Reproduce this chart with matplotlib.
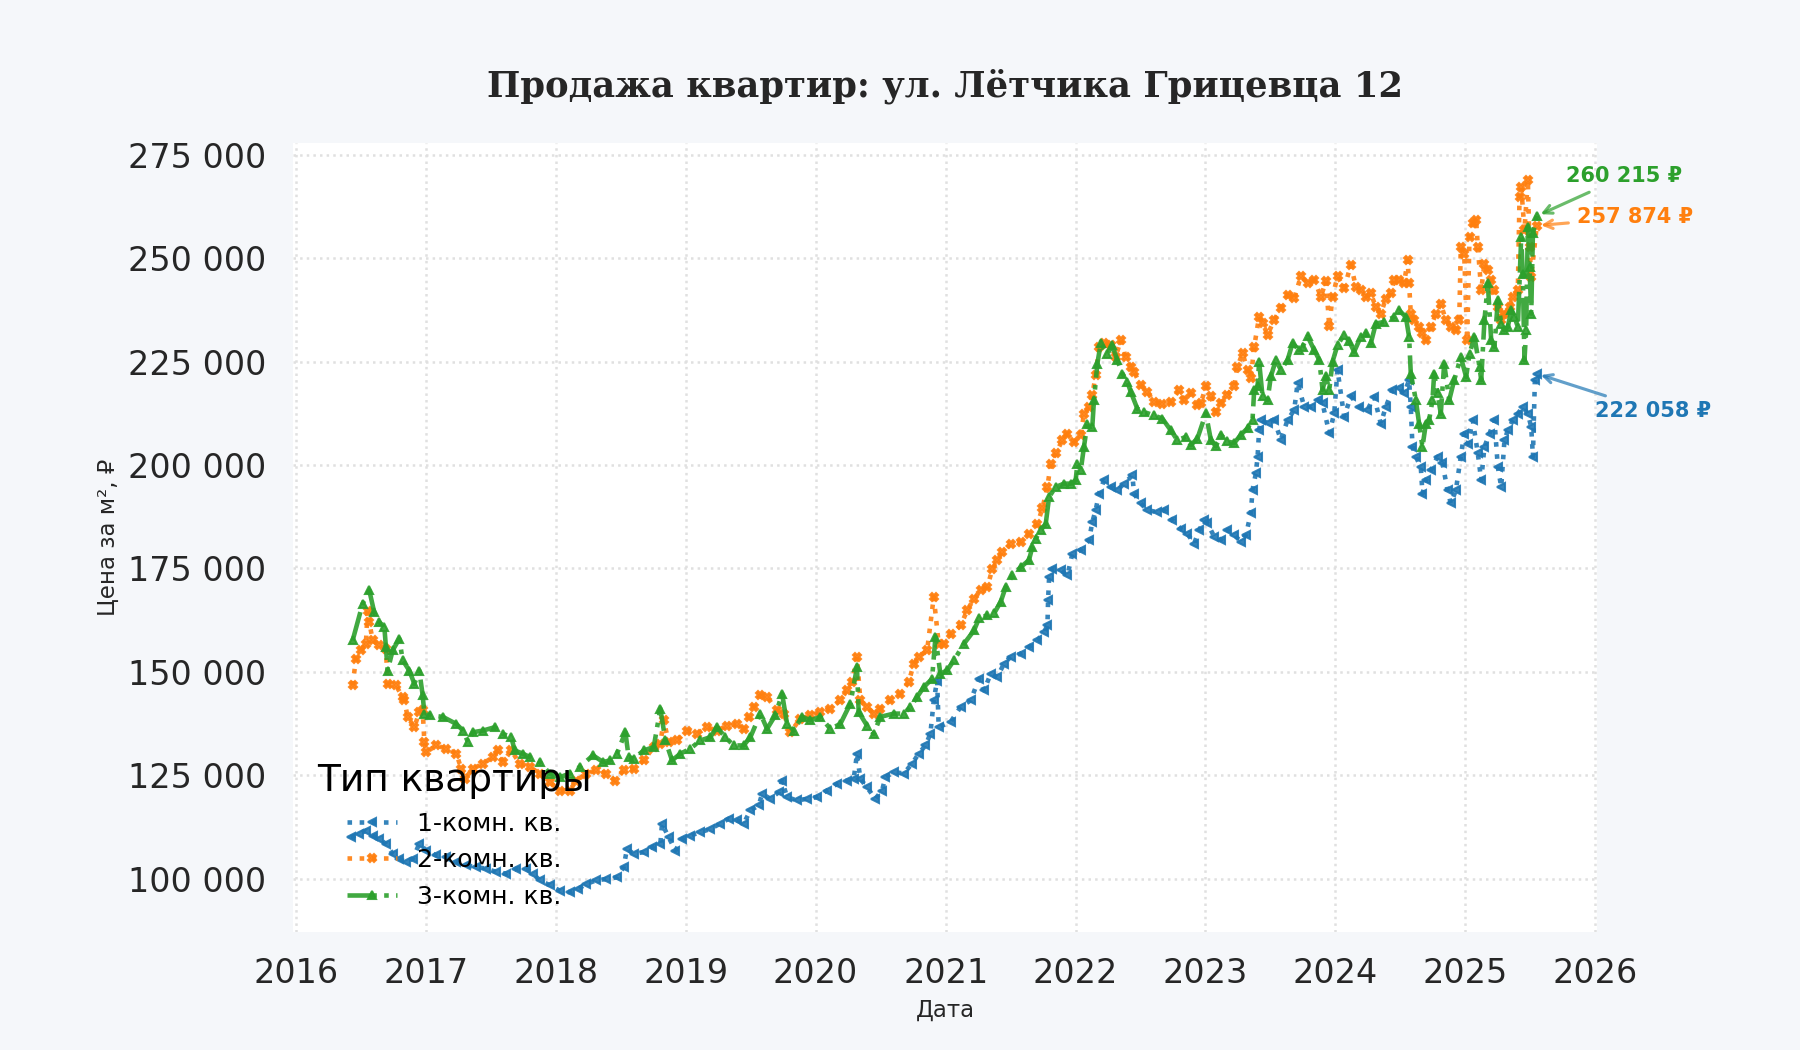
import pandas as pd
import matplotlib
matplotlib.use("Agg")
import matplotlib.pyplot as plt
import matplotlib.ticker as mtick
import matplotlib.dates as mdates

# decimal year -> price per m2
t1 = [2016.424, 2016.488, 2016.539, 2016.591, 2016.642, 2016.693, 2016.745, 2016.796, 2016.847, 2016.899,
      2016.950, 2017.002, 2017.079, 2017.156, 2017.233, 2017.310, 2017.387, 2017.464, 2017.541, 2017.618,
      2017.695, 2017.772, 2017.823, 2017.875, 2017.952, 2018.029, 2018.106, 2018.170, 2018.234, 2018.311,
      2018.388, 2018.470, 2018.522, 2018.547, 2018.599, 2018.676, 2018.740, 2018.804, 2018.817, 2018.868,
      2018.920, 2018.971, 2019.035, 2019.112, 2019.189, 2019.266, 2019.331, 2019.395, 2019.446, 2019.498,
      2019.562, 2019.588, 2019.652, 2019.716, 2019.742, 2019.780, 2019.857, 2019.934, 2020.011, 2020.088,
      2020.165, 2020.242, 2020.294, 2020.319, 2020.345, 2020.396, 2020.460, 2020.512, 2020.538, 2020.602,
      2020.679, 2020.743, 2020.794, 2020.846, 2020.884, 2020.910, 2020.936, 2020.948, 2021.038, 2021.115,
      2021.192, 2021.256, 2021.295, 2021.346, 2021.398, 2021.449, 2021.500, 2021.577, 2021.641, 2021.706,
      2021.757, 2021.783, 2021.788, 2021.796, 2021.821, 2021.886, 2021.937, 2021.975, 2022.040, 2022.104,
      2022.129, 2022.155, 2022.181, 2022.219, 2022.271, 2022.322, 2022.373, 2022.438, 2022.450, 2022.502,
      2022.553, 2022.630, 2022.682, 2022.746, 2022.810, 2022.861, 2022.913, 2022.951, 2022.990, 2023.016,
      2023.068, 2023.119, 2023.170, 2023.222, 2023.273, 2023.312, 2023.350, 2023.363, 2023.389, 2023.402,
      2023.414, 2023.427, 2023.479, 2023.530, 2023.581, 2023.633, 2023.684, 2023.710, 2023.761, 2023.812,
      2023.864, 2023.902, 2023.954, 2023.992, 2024.018, 2024.069, 2024.121, 2024.185, 2024.248, 2024.300,
      2024.351, 2024.390, 2024.441, 2024.492, 2024.531, 2024.569, 2024.582, 2024.595, 2024.621, 2024.659,
      2024.672, 2024.698, 2024.736, 2024.788, 2024.826, 2024.865, 2024.890, 2024.929, 2024.967, 2024.993,
      2025.019, 2025.057, 2025.096, 2025.122, 2025.147, 2025.186, 2025.224, 2025.250, 2025.276, 2025.301,
      2025.327, 2025.365, 2025.404, 2025.442, 2025.481, 2025.507, 2025.520, 2025.535, 2025.550]
p1 = [110000, 110800, 111600, 110400, 109600, 108400, 106000, 104800, 104000, 104800,
      108400, 106800, 105600, 105200, 104000, 103200, 102800, 102400, 101600, 101200,
      102400, 102400, 101200, 99600, 98400, 97100, 96700, 97500, 98700, 99600,
      99900, 100300, 102800, 107200, 106000, 106400, 107600, 108400, 113300, 110000,
      106800, 109600, 110400, 111200, 112000, 113300, 114500, 114100, 113300, 116500,
      117700, 120500, 119300, 120900, 123700, 119700, 118900, 119300, 119700, 121300,
      122900, 123700, 124100, 130200, 124100, 122100, 119300, 121300, 124500, 125800,
      125400, 127800, 130200, 132200, 135000, 143100, 147900, 136600, 137900, 141500,
      143100, 148300, 145500, 149500, 148800, 152000, 153600, 154400, 156000, 157600,
      159600, 161200, 167300, 172900, 174900, 174500, 173300, 178600, 179400, 181800,
      186200, 189100, 193100, 196300, 194700, 193900, 195500, 197500, 193100, 190700,
      189100, 188600, 189100, 186600, 184600, 183400, 181000, 184200, 186600, 185900,
      182700, 181900, 184300, 183100, 181500, 183100, 188300, 194000, 198000, 202000,
      208500, 210900, 210100, 210900, 206100, 210900, 213300, 219800, 214100, 214100,
      215700, 214900, 207700, 212500, 223000, 211700, 216600, 214100, 213300, 216500,
      210000, 214100, 218100, 218500, 217300, 220500, 214100, 204400, 202000, 199500,
      193100, 196300, 198700, 202000, 200400, 193900, 190700, 193900, 202000, 207600,
      205200, 210800, 202800, 196300, 204400, 207600, 210800, 199500, 194700, 206000,
      208400, 210800, 212400, 214100, 212400, 209200, 202000, 220500, 222058]

t2 = [2016.437, 2016.462, 2016.501, 2016.539, 2016.552, 2016.565, 2016.591, 2016.642, 2016.693, 2016.706,
      2016.770, 2016.822, 2016.835, 2016.860, 2016.912, 2016.950, 2016.976, 2016.989, 2017.002, 2017.079,
      2017.156, 2017.233, 2017.271, 2017.297, 2017.361, 2017.438, 2017.515, 2017.554, 2017.592, 2017.656,
      2017.721, 2017.798, 2017.875, 2017.952, 2018.029, 2018.106, 2018.157, 2018.234, 2018.311, 2018.388,
      2018.458, 2018.522, 2018.599, 2018.676, 2018.753, 2018.804, 2018.830, 2018.868, 2018.933, 2019.010,
      2019.087, 2019.164, 2019.241, 2019.318, 2019.395, 2019.446, 2019.485, 2019.523, 2019.575, 2019.626,
      2019.703, 2019.754, 2019.806, 2019.883, 2019.960, 2020.037, 2020.114, 2020.191, 2020.242, 2020.281,
      2020.319, 2020.345, 2020.396, 2020.448, 2020.499, 2020.576, 2020.653, 2020.717, 2020.756, 2020.794,
      2020.859, 2020.910, 2020.948, 2020.987, 2021.038, 2021.115, 2021.166, 2021.218, 2021.269, 2021.321,
      2021.359, 2021.398, 2021.436, 2021.500, 2021.577, 2021.641, 2021.706, 2021.744, 2021.783, 2021.808,
      2021.847, 2021.898, 2021.937, 2021.988, 2022.040, 2022.065, 2022.104, 2022.129, 2022.155, 2022.181,
      2022.219, 2022.271, 2022.309, 2022.348, 2022.386, 2022.425, 2022.450, 2022.502, 2022.553, 2022.604,
      2022.669, 2022.733, 2022.797, 2022.836, 2022.887, 2022.938, 2022.965, 2023.004, 2023.042, 2023.081,
      2023.119, 2023.170, 2023.222, 2023.247, 2023.286, 2023.325, 2023.350, 2023.376, 2023.414, 2023.440,
      2023.479, 2023.530, 2023.581, 2023.633, 2023.684, 2023.735, 2023.787, 2023.838, 2023.889, 2023.928,
      2023.954, 2023.979, 2024.018, 2024.069, 2024.121, 2024.159, 2024.197, 2024.236, 2024.274, 2024.313,
      2024.351, 2024.390, 2024.428, 2024.454, 2024.492, 2024.531, 2024.557, 2024.569, 2024.582, 2024.608,
      2024.646, 2024.672, 2024.698, 2024.736, 2024.775, 2024.813, 2024.852, 2024.890, 2024.929, 2024.955,
      2024.967, 2024.993, 2025.014, 2025.032, 2025.057, 2025.083, 2025.096, 2025.122, 2025.147, 2025.173,
      2025.199, 2025.224, 2025.250, 2025.276, 2025.301, 2025.340, 2025.365, 2025.404, 2025.417, 2025.430,
      2025.455, 2025.481, 2025.494, 2025.507, 2025.550]
p2 = [146700, 153200, 155200, 156800, 164800, 162000, 157600, 156400, 155600, 147100,
      146700, 143900, 143100, 139100, 136600, 140300, 140700, 133000, 130600, 132200,
      131400, 130200, 126600, 124100, 126600, 127800, 129400, 131000, 128200, 131000,
      127800, 127000, 125400, 123300, 121300, 121300, 123700, 125400, 126200, 125400,
      123700, 126200, 126600, 128600, 131800, 132600, 138300, 133000, 133400, 135800,
      135000, 136600, 135800, 137000, 137400, 136200, 139100, 141500, 144300, 143900,
      140700, 139900, 135400, 138700, 139500, 140300, 141100, 143100, 145500, 147500,
      153600, 143100, 141500, 139900, 141100, 143100, 144700, 147500, 151900, 153600,
      155200, 168100, 156800, 156800, 159200, 161200, 164900, 167700, 169700, 170500,
      174900, 177000, 179000, 181000, 181400, 183400, 185800, 189500, 194700, 200300,
      202800, 206000, 207600, 205600, 207200, 212400, 214000, 216900, 221700, 228500,
      229400, 228900, 226100, 230200, 226100, 223700, 222500, 219300, 217700, 215200,
      214800, 215200, 218100, 215700, 217300, 214400, 215000, 219000, 216600, 212900,
      215000, 217000, 219000, 223800, 227000, 223000, 221000, 228600, 235900, 234300,
      231500, 235100, 237900, 241100, 240300, 245600, 244000, 244800, 240700, 244400,
      233500, 240700, 245600, 242700, 248400, 243100, 242300, 240700, 241500, 238200,
      236600, 240200, 241500, 244700, 244700, 243900, 249500, 243900, 236600, 235000,
      233400, 231800, 230200, 233400, 236600, 239000, 235000, 233400, 232600, 235000,
      252700, 251100, 230200, 255200, 258400, 259200, 252700, 242300, 248700, 247100,
      244700, 242300, 238200, 235000, 236600, 238200, 240700, 242300, 264800, 267200,
      256800, 268900, 252700, 245500, 257874]

t3 = [2016.437, 2016.514, 2016.565, 2016.603, 2016.642, 2016.681, 2016.693, 2016.706, 2016.745, 2016.796,
      2016.822, 2016.873, 2016.912, 2016.950, 2016.976, 2016.989, 2017.027, 2017.130, 2017.233, 2017.284,
      2017.323, 2017.361, 2017.438, 2017.528, 2017.592, 2017.656, 2017.682, 2017.746, 2017.798, 2017.875,
      2017.952, 2018.029, 2018.106, 2018.183, 2018.286, 2018.363, 2018.419, 2018.470, 2018.535, 2018.560,
      2018.599, 2018.676, 2018.753, 2018.804, 2018.843, 2018.894, 2018.958, 2019.035, 2019.112, 2019.189,
      2019.241, 2019.305, 2019.369, 2019.446, 2019.498, 2019.575, 2019.626, 2019.690, 2019.742, 2019.780,
      2019.831, 2019.896, 2019.960, 2020.037, 2020.114, 2020.191, 2020.268, 2020.319, 2020.332, 2020.396,
      2020.448, 2020.499, 2020.602, 2020.679, 2020.730, 2020.782, 2020.833, 2020.897, 2020.923, 2020.961,
      2021.012, 2021.064, 2021.141, 2021.218, 2021.256, 2021.321, 2021.372, 2021.423, 2021.462, 2021.513,
      2021.577, 2021.641, 2021.667, 2021.693, 2021.731, 2021.770, 2021.796, 2021.847, 2021.911, 2021.963,
      2022.001, 2022.014, 2022.040, 2022.065, 2022.091, 2022.129, 2022.142, 2022.168, 2022.194, 2022.245,
      2022.284, 2022.322, 2022.361, 2022.399, 2022.425, 2022.476, 2022.528, 2022.604, 2022.669, 2022.733,
      2022.784, 2022.849, 2022.887, 2022.938, 2023.004, 2023.042, 2023.081, 2023.119, 2023.170, 2023.222,
      2023.273, 2023.325, 2023.363, 2023.376, 2023.402, 2023.414, 2023.440, 2023.479, 2023.504, 2023.543,
      2023.581, 2023.633, 2023.671, 2023.723, 2023.748, 2023.787, 2023.838, 2023.877, 2023.902, 2023.928,
      2023.954, 2023.979, 2024.018, 2024.069, 2024.108, 2024.146, 2024.197, 2024.236, 2024.274, 2024.313,
      2024.377, 2024.454, 2024.492, 2024.544, 2024.569, 2024.582, 2024.621, 2024.646, 2024.672, 2024.698,
      2024.723, 2024.749, 2024.762, 2024.788, 2024.813, 2024.839, 2024.878, 2024.916, 2024.967, 2025.006,
      2025.032, 2025.070, 2025.109, 2025.122, 2025.147, 2025.173, 2025.199, 2025.224, 2025.250, 2025.276,
      2025.301, 2025.327, 2025.353, 2025.378, 2025.404, 2025.430, 2025.442, 2025.455, 2025.468, 2025.481,
      2025.494, 2025.507, 2025.520, 2025.550]
p3 = [157600, 166500, 169700, 164400, 162000, 160800, 156000, 150300, 155200, 158000,
      152800, 150300, 147100, 150300, 144300, 139900, 139500, 139100, 137400, 135800,
      133000, 135400, 135800, 136600, 135000, 134200, 131000, 130200, 129400, 128200,
      125400, 124500, 125400, 127000, 129800, 128200, 128600, 130200, 135400, 129400,
      129000, 131000, 131800, 141100, 133400, 128600, 130200, 131400, 133400, 134200,
      136600, 134200, 132200, 132200, 134200, 139900, 136200, 139500, 144700, 137400,
      135800, 139100, 138300, 139100, 136200, 137400, 142300, 151100, 140300, 137000,
      135000, 139100, 139900, 139900, 141500, 143900, 146300, 148300, 158400, 149500,
      150400, 152800, 156800, 160000, 162900, 163700, 164100, 166900, 170500, 173300,
      175300, 177000, 180200, 182200, 184200, 185800, 192300, 194700, 195500, 195500,
      196300, 200300, 198700, 204400, 210000, 209200, 215700, 224500, 229400, 226900,
      228900, 225300, 222100, 220100, 217700, 213600, 212800, 212000, 211200, 208400,
      206000, 206800, 204800, 206400, 212500, 206100, 204500, 207300, 205700, 205300,
      207300, 208900, 210900, 218200, 219000, 225000, 216600, 215700, 221400, 225400,
      223000, 225400, 229400, 227800, 228600, 231100, 227800, 225400, 218200, 221400,
      218200, 225000, 229000, 231500, 229900, 227400, 231000, 231800, 229400, 234200,
      234600, 235800, 237400, 235800, 231000, 222100, 215700, 210000, 204400, 210000,
      210800, 215700, 222100, 217300, 212400, 224500, 215700, 220500, 226100, 221300,
      226900, 231000, 223700, 220500, 235000, 243900, 230200, 228600, 239800, 234200,
      232600, 233400, 237400, 235800, 233400, 255200, 246300, 225300, 232600, 257600,
      247900, 236600, 256000, 260215]

labels = ["1-комн. кв.", "2-комн. кв.", "3-комн. кв."]
colors = ["#1f77b4", "#ff7f0e", "#2ca02c"]
styles = [(":", "<"), (":", "X"), ("-.", "^")]


def to_dates(years):
    out = []
    for y in years:
        base = int(y)
        out.append(pd.Timestamp(year=base, month=1, day=1) + pd.Timedelta(days=(y - base) * 365.25))
    return out


def fmt_rub(v, pos=None):
    return f"{int(round(v)):,}".replace(",", " ")


fig = plt.figure(figsize=(12, 7), dpi=150)
fig.set_facecolor("#f5f7fa")
ax = fig.add_subplot(111)
fig.subplots_adjust(left=0.163, right=0.887, top=0.864, bottom=0.112)
ax.set_facecolor("white")

series = [(t1, p1), (t2, p2), (t3, p3)]
for (tt, pp), lab, c, (ls, mk) in zip(series, labels, colors, styles):
    ax.plot(to_dates(tt), pp, linestyle=ls, marker=mk, color=c, label=lab,
            linewidth=2.2, markersize=4.2, alpha=0.9)

# last value annotations
offsets = [(56, -18), (47, 4), (42, 19)]
for (tt, pp), c, off in zip(series, colors, offsets):
    last_t = to_dates(tt)[-1]
    ax.annotate(fmt_rub(pp[-1]) + " ₽", xy=(last_t, pp[-1]), xytext=off,
                textcoords="offset points", ha="center", va="center",
                fontsize=10, fontweight="bold", color=c,
                arrowprops=dict(arrowstyle="->", color=c, alpha=0.7, lw=1.5))

ax.set_title("Продажа квартир: ул. Лётчика Грицевца 12", fontsize=17, fontweight="bold",
             family="DejaVu Serif", color="#262626", pad=22)
ax.set_xlabel("Дата", fontsize=11, color="#262626")
ax.set_ylabel("Цена за м², ₽", fontsize=11, color="#262626")

ax.set_xlim(pd.Timestamp("2015-12-25"), pd.Timestamp("2026-01-05"))
ax.set_ylim(87000, 277900)
ax.xaxis.set_major_locator(mdates.YearLocator())
ax.xaxis.set_major_formatter(mdates.DateFormatter("%Y"))
ax.yaxis.set_major_locator(mtick.MultipleLocator(25000))
ax.yaxis.set_major_formatter(mtick.FuncFormatter(fmt_rub))
ax.tick_params(axis="both", labelsize=16, length=0, labelcolor="#262626")
ax.tick_params(axis="x", pad=12)
ax.tick_params(axis="y", pad=13)

ax.grid(True, which="major", axis="both", color="#e0e0e0", linestyle=":", linewidth=1.2)
for s in ax.spines.values():
    s.set_visible(False)

ax.legend(title="Тип квартиры", loc="lower left", frameon=False,
          fontsize=12, title_fontsize=18, borderaxespad=0.55)

fig.savefig("out.png", dpi=150, facecolor=fig.get_facecolor())
